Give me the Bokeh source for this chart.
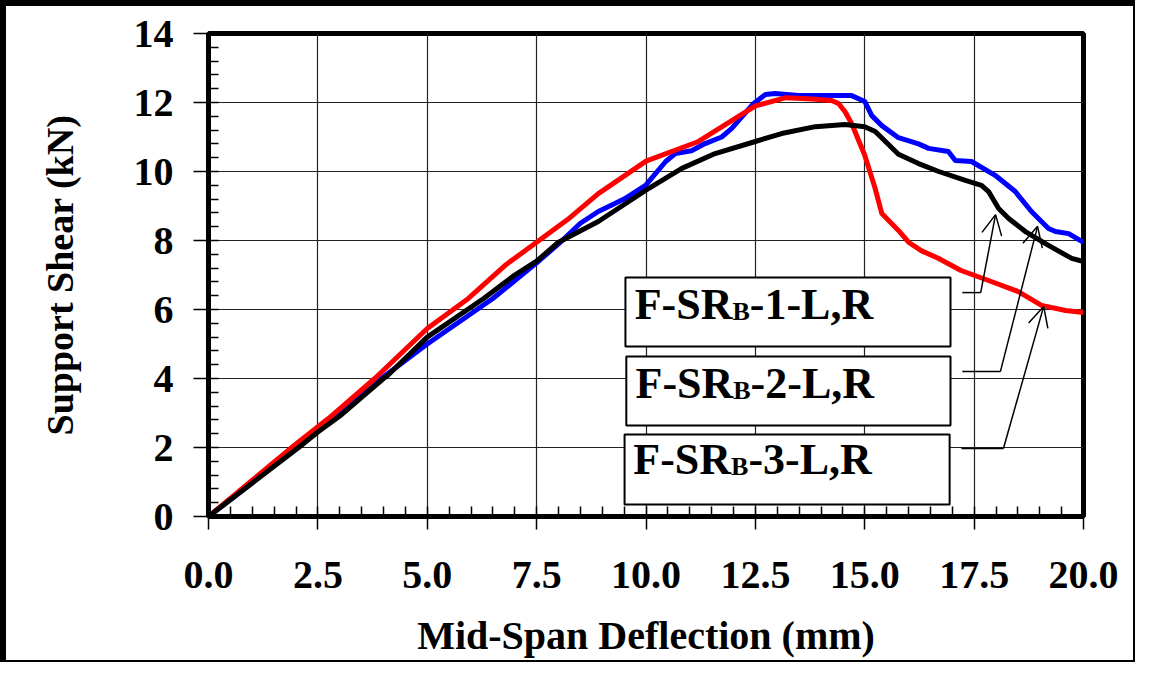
from bokeh.plotting import figure
from bokeh.models import Range1d, SingleIntervalTicker, PrintfTickFormatter, Arrow, OpenHead
from bokeh.core.properties import value
from bokeh.embed import file_html
from bokeh.resources import INLINE

# ---------------- data ----------------
blue_x = [0, 1, 2, 3.95, 5, 6.5, 7.5, 8.0, 8.5, 8.91, 9.5, 9.99, 10.45, 10.67, 11.04, 11.35,
          11.73, 11.96, 12.2, 12.46, 12.73, 12.95, 13.49, 14.7, 15.0, 15.16, 15.39, 15.77,
          16.23, 16.46, 16.91, 17.07, 17.44, 17.98, 18.44, 18.81, 19.2, 19.36, 19.66, 20.0]
blue_y = [0, 0.98, 1.98, 4.0, 5.0, 6.32, 7.35, 7.9, 8.5, 8.84, 9.2, 9.6, 10.29, 10.52, 10.6, 10.81,
          11.0, 11.25, 11.6, 11.97, 12.23, 12.26, 12.2, 12.2, 12.03, 11.62, 11.33, 10.98,
          10.8, 10.67, 10.58, 10.32, 10.29, 9.89, 9.42, 8.84, 8.35, 8.26, 8.2, 7.95]

red_x = [0, 1, 2, 2.74, 3.8, 5, 5.94, 6.8, 7.5, 8.2, 8.91, 10, 11.2, 12.5, 13.2, 13.8, 14.24,
         14.4, 14.55, 14.7, 15.0, 15.24, 15.39, 15.77, 16.0, 16.3, 16.69, 17.2, 17.83, 18.51,
         19.04, 19.59, 20.0]
red_y = [0, 1.05, 2.1, 2.84, 4.0, 5.45, 6.32, 7.3, 7.95, 8.6, 9.36, 10.3, 10.87, 11.9, 12.14, 12.1,
         12.06, 11.97, 11.73, 11.39, 10.47, 9.5, 8.78, 8.29, 7.95, 7.7, 7.48, 7.13, 6.84, 6.52,
         6.12, 5.97, 5.91]

black_x = [0, 1, 2.06, 2.5, 3.04, 4.0, 4.07, 5, 6.29, 7.0, 7.5, 8.0, 8.91, 9.99, 10.82, 11.58,
           12.5, 13.1, 13.87, 14.55, 15.0, 15.24, 15.77, 16.23, 16.69, 17.3, 17.67, 17.83, 18.06,
           18.29, 18.67, 19.2, 19.73, 20.0]
black_y = [0, 0.97, 2.0, 2.45, 2.95, 4.0, 4.06, 5.2, 6.32, 7.0, 7.4, 7.95, 8.55, 9.45, 10.09, 10.52,
           10.87, 11.1, 11.3, 11.36, 11.3, 11.16, 10.5, 10.23, 10.0, 9.74, 9.6, 9.42, 8.93,
           8.64, 8.26, 7.86, 7.48, 7.39]

series_labels = ["F-SR", "F-SR", "F-SR"]
series_numbers = ["-1-L,R", "-2-L,R", "-3-L,R"]

# label boxes (data units) and their leader lines
box_left = [9.53, 9.55, 9.51]
box_right = [16.96, 16.96, 16.94]
box_top = [6.93, 4.64, 2.38]
box_bottom = [4.93, 2.64, 0.35]
text_x = [9.74, 9.76, 9.71]
text_y = [6.15, 3.86, 1.66]

lead_x0 = [17.23, 17.23, 17.21]
lead_x1 = [17.65, 18.10, 18.17]
lead_y = [6.49, 4.20, 1.97]
tip_x = [17.99, 18.95, 19.09]
tip_y = [8.75, 8.41, 6.09]

FONT = "Liberation Serif"

p = figure(width=1135, height=662, x_range=Range1d(0, 20), y_range=Range1d(0, 14),
           output_backend="svg", toolbar_location=None,
           min_border_left=202, min_border_right=58, min_border_top=27, min_border_bottom=152)

p.styles = {"border-top": "6px solid black", "border-left": "6px solid black",
            "border-right": "2px solid black", "border-bottom": "2px solid black",
            "box-sizing": "border-box"}

p.outline_line_color = "black"
p.outline_line_width = 5

xt = SingleIntervalTicker(interval=2.5, num_minor_ticks=5)
yt = SingleIntervalTicker(interval=2, num_minor_ticks=5)
p.xaxis.ticker = xt
p.yaxis.ticker = yt
p.xgrid.ticker = xt
p.ygrid.ticker = yt
p.xaxis.formatter = PrintfTickFormatter(format="%.1f")

for ax in (p.xaxis, p.yaxis):
    ax.axis_line_width = 5
    ax.axis_line_color = "black"
    ax.major_tick_in = 0
    ax.major_tick_line_width = 1.5
    ax.major_tick_line_color = "black"
    ax.minor_tick_in = 10
    ax.minor_tick_out = 0
    ax.minor_tick_line_width = 1.5
    ax.minor_tick_line_color = "black"
    ax.major_label_text_font = FONT
    ax.major_label_text_font_style = "bold"
    ax.major_label_text_font_size = "40px"
    ax.major_label_text_color = "black"
    ax.axis_label_text_font = FONT
    ax.axis_label_text_font_style = "bold"
    ax.axis_label_text_color = "black"

p.xaxis.major_tick_out = 13
p.yaxis.major_tick_out = 15
p.xaxis.major_label_standoff = 32
p.yaxis.major_label_standoff = 20
p.xaxis.axis_label = "Mid-Span Deflection (mm)"
p.yaxis.axis_label = "Support Shear (kN)"
p.xaxis.axis_label_text_font_size = "40px"
p.yaxis.axis_label_text_font_size = "38px"
p.xaxis.axis_label_standoff = 22
p.yaxis.axis_label_standoff = 50

for g in (p.xgrid, p.ygrid):
    g.grid_line_color = "#222222"
    g.grid_line_width = 1.2
    g.grid_line_alpha = 1.0

p.line(blue_x, blue_y, line_color="#0000FF", line_width=5, line_join="round")
p.line(red_x, red_y, line_color="#FF0000", line_width=5, line_join="round")
p.line(black_x, black_y, line_color="black", line_width=5, line_join="round")

# label boxes
p.quad(left=box_left, right=box_right, top=box_top, bottom=box_bottom,
       fill_color="white", line_color="black", line_width=2)

fs = 44
w_main = (611 + 333 + 556 + 722) / 1000 * fs
sub_fs = 26
w_sub = 667 / 1000 * sub_fs
p.text(text_x, text_y, text=series_labels, text_font=value(FONT), text_font_style="bold",
       text_font_size=f"{fs}px", text_baseline="alphabetic", text_align="left", text_color="black")
p.text(text_x, text_y, text=["B"] * 3, text_font=value(FONT), text_font_style="bold",
       text_font_size=f"{sub_fs}px", text_baseline="alphabetic", text_align="left",
       x_offset=w_main, y_offset=7, text_color="black")
p.text(text_x, text_y, text=series_numbers, text_font=value(FONT), text_font_style="bold",
       text_font_size=f"{fs}px", text_baseline="alphabetic", text_align="left",
       x_offset=w_main + w_sub, text_color="black")

# leader lines with arrows
p.segment(x0=lead_x0, y0=lead_y, x1=lead_x1, y1=lead_y, line_color="black", line_width=1.5)
for i in range(3):
    p.add_layout(Arrow(end=OpenHead(size=20, line_width=1.5, line_color="black"),
                       x_start=lead_x1[i], y_start=lead_y[i], x_end=tip_x[i], y_end=tip_y[i],
                       line_width=1.5, line_color="black"))

open("out.html", "w").write(file_html(p, INLINE))
